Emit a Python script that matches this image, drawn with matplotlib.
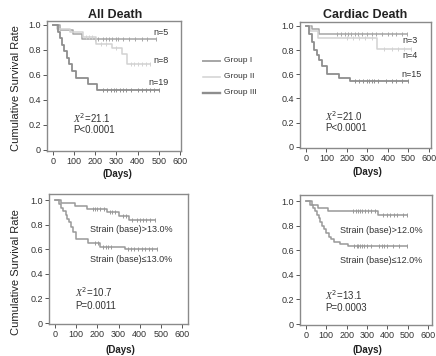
import numpy as np
import matplotlib.pyplot as plt

plt.rcParams['font.family'] = ['Liberation Sans', 'DejaVu Sans']
plt.rcParams['mathtext.fontset'] = 'custom'
plt.rcParams['mathtext.it'] = 'Liberation Serif:italic'

# ---- data (step times in days, survival after each step, last follow-up, censor times)
# All Death
ad_g1_t = [35, 95, 140]
ad_g1_s = [0.96, 0.925, 0.89]
ad_g1_end = 485
ad_g1_cens = [200, 215, 235, 250, 265, 280, 300, 310, 330, 360, 390, 420, 445, 485]

ad_g2_t = [20, 80, 145, 205, 280, 325, 350]
ad_g2_s = [0.97, 0.94, 0.9, 0.85, 0.815, 0.77, 0.685]
ad_g2_end = 458
ad_g2_cens = [155, 170, 185, 230, 250, 300, 370, 385, 400, 420, 440, 458]

ad_g3_t = [25, 35, 45, 55, 65, 78, 92, 108, 165, 210]
ad_g3_s = [0.947, 0.895, 0.842, 0.789, 0.737, 0.684, 0.632, 0.579, 0.526, 0.48]
ad_g3_end = 500
ad_g3_cens = [235, 255, 275, 290, 300, 315, 330, 345, 370, 400, 420, 440, 460, 480, 500]

# Cardiac Death
cd_g1_t = [28, 65]
cd_g1_s = [0.975, 0.93]
cd_g1_end = 495
cd_g1_cens = [150, 170, 190, 205, 220, 240, 255, 275, 300, 320, 340, 370, 400, 420, 440, 470, 495]

cd_g2_t = [20, 60, 345]
cd_g2_s = [0.96, 0.9, 0.81]
cd_g2_end = 512
cd_g2_cens = [200, 230, 260, 290, 320, 380, 420, 450, 480, 512]

cd_g3_t = [15, 28, 40, 52, 65, 80, 105, 160, 215]
cd_g3_s = [0.933, 0.867, 0.8, 0.76, 0.72, 0.667, 0.6, 0.57, 0.545]
cd_g3_end = 500
cd_g3_cens = [240, 260, 280, 300, 310, 320, 330, 350, 390, 420, 440, 470, 500]

# Strain (base) 13.0%
hi13_t = [30, 95, 150, 245, 300, 350]
hi13_s = [0.98, 0.955, 0.926, 0.9, 0.875, 0.84]
hi13_end = 472
hi13_cens = [180, 190, 200, 215, 230, 260, 270, 285, 320, 335, 365, 385, 400, 415, 430, 450, 470]

lo13_t = [20, 30, 40, 50, 58, 66, 75, 85, 100, 155, 215, 330]
lo13_s = [0.97, 0.94, 0.91, 0.88, 0.85, 0.82, 0.78, 0.74, 0.68, 0.65, 0.62, 0.6]
lo13_end = 480
lo13_cens = [190, 205, 225, 240, 250, 265, 345, 360, 375, 390, 410, 425, 445, 460, 480]

# Strain (base) 12.0%
hi12_t = [28, 60, 110, 355]
hi12_s = [0.972, 0.945, 0.918, 0.89]
hi12_end = 495
hi12_cens = [230, 245, 255, 265, 275, 290, 305, 320, 340, 380, 400, 415, 435, 450, 475, 495]

lo12_t = [22, 35, 45, 55, 62, 70, 80, 90, 100, 112, 125, 140, 165, 205]
lo12_s = [0.97, 0.945, 0.92, 0.89, 0.86, 0.83, 0.8, 0.77, 0.74, 0.71, 0.69, 0.67, 0.65, 0.635]
lo12_end = 495
lo12_cens = [235, 250, 258, 265, 275, 285, 300, 320, 360, 375, 385, 400, 430, 460, 495]

group_labels = ['Group I', 'Group II', 'Group III']
x_ticks = [0, 100, 200, 300, 400, 500, 600]
y_ticks = [0, 0.2, 0.4, 0.6, 0.8, 1.0]
y_ticklabels = ['0', '0.2', '0.4', '0.6', '0.8', '1.0']

c_g1 = '#a6a6a6'
c_g2 = '#d2d2d2'
c_g3 = '#8e8e8e'
c_bw = '#999999'
txt = '#333333'

W, H = 436, 356
fig = plt.figure(figsize=(W / 100, H / 100), dpi=100)


def px_axes(l, t, r, b):
    return fig.add_axes([l / W, 1 - b / H, (r - l) / W, (b - t) / H])


def km(ax, t, s, end, cens, color, lw=1.1):
    xs = np.concatenate([[0], t, [end]])
    ys = np.concatenate([[1.0], s, [s[-1]]])
    ax.plot(xs, ys, drawstyle='steps-post', color=color, lw=lw)
    idx = np.searchsorted(t, cens, side='right')
    cy = np.concatenate([[1.0], s])[idx]
    ax.plot(cens, cy, '|', color=color, ms=3.2, mew=0.7)


def style(ax, xlim, ylim):
    ax.set_xlim(*xlim)
    ax.set_ylim(*ylim)
    ax.set_xticks(x_ticks)
    ax.set_yticks(y_ticks)
    ax.set_yticklabels(y_ticklabels)
    for sp in ax.spines.values():
        sp.set_color('#8a8a8a')
        sp.set_linewidth(1.0)
    ax.tick_params(direction='out', length=3, width=0.7, color='#555555',
                   labelcolor=txt, labelsize=6.5, pad=1.5)


# top-left: All Death
ax1 = px_axes(47, 21, 181, 151)
km(ax1, ad_g1_t, ad_g1_s, ad_g1_end, ad_g1_cens, c_g1)
km(ax1, ad_g2_t, ad_g2_s, ad_g2_end, ad_g2_cens, c_g2)
km(ax1, ad_g3_t, ad_g3_s, ad_g3_end, ad_g3_cens, c_g3, lw=1.3)
style(ax1, (-27, 605), (-0.01, 1.032))
ax1.text(545, 0.90, 'n=5', fontsize=6.5, color=txt, ha='right', va='bottom')
ax1.text(545, 0.68, 'n=8', fontsize=6.5, color=txt, ha='right', va='bottom')
ax1.text(545, 0.50, 'n=19', fontsize=6.5, color=txt, ha='right', va='bottom')
ax1.text(95, 0.25, r'$X^2$=21.1', fontsize=7, color=txt, va='center')
ax1.text(95, 0.155, 'P<0.0001', fontsize=7, color=txt, va='center')

# top-right: Cardiac Death
ax2 = px_axes(300, 22, 431, 148)
km(ax2, cd_g1_t, cd_g1_s, cd_g1_end, cd_g1_cens, c_g1)
km(ax2, cd_g2_t, cd_g2_s, cd_g2_end, cd_g2_cens, c_g2)
km(ax2, cd_g3_t, cd_g3_s, cd_g3_end, cd_g3_cens, c_g3, lw=1.3)
style(ax2, (-29, 610), (-0.011, 1.033))
ax2.text(545, 0.88, 'n=3', fontsize=6.5, color=txt, ha='right', va='center')
ax2.text(545, 0.755, 'n=4', fontsize=6.5, color=txt, ha='right', va='center')
ax2.text(565, 0.595, 'n=15', fontsize=6.5, color=txt, ha='right', va='center')
ax2.text(95, 0.25, r'$X^2$=21.0', fontsize=7, color=txt, va='center')
ax2.text(95, 0.155, 'P<0.0001', fontsize=7, color=txt, va='center')

# bottom-left
ax3 = px_axes(49, 194, 188, 324)
km(ax3, hi13_t, hi13_s, hi13_end, hi13_cens, c_bw)
km(ax3, lo13_t, lo13_s, lo13_end, lo13_cens, c_bw)
style(ax3, (-28, 628), (-0.008, 1.05))
ax3.text(165, 0.765, 'Strain (base)>13.0%', fontsize=6.5, color=txt, va='center')
ax3.text(165, 0.52, 'Strain (base)\u226413.0%', fontsize=6.5, color=txt, va='center')
ax3.text(95, 0.245, r'$X^2$=10.7', fontsize=7, color=txt, va='center')
ax3.text(95, 0.14, 'P=0.0011', fontsize=7, color=txt, va='center')

# bottom-right
ax4 = px_axes(300, 195, 432, 325)
km(ax4, hi12_t, hi12_s, hi12_end, hi12_cens, c_bw)
km(ax4, lo12_t, lo12_s, lo12_end, lo12_cens, c_bw)
style(ax4, (-29.5, 620), (-0.008, 1.05))
ax4.text(165, 0.765, 'Strain (base)>12.0%', fontsize=6.5, color=txt, va='center')
ax4.text(165, 0.52, 'Strain (base)\u226412.0%', fontsize=6.5, color=txt, va='center')
ax4.text(95, 0.235, r'$X^2$=13.1', fontsize=7, color=txt, va='center')
ax4.text(95, 0.13, 'P=0.0003', fontsize=7, color=txt, va='center')

# titles, axis labels
fig.text(115 / W, 1 - 15 / H, 'All Death', fontsize=9, fontweight='bold',
         color='#222222', ha='center', va='center')
fig.text(365 / W, 1 - 15 / H, 'Cardiac Death', fontsize=9, fontweight='bold',
         color='#222222', ha='center', va='center')
for cx, cy in [(117, 174), (367, 172), (120, 350), (367, 350)]:
    fig.text(cx / W, 1 - cy / H, '(Days)', fontsize=7, fontweight='bold',
             color='#222222', ha='center', va='center')
for cy in [88, 272]:
    fig.text(16 / W, 1 - cy / H, 'Cumulative Survival Rate', fontsize=8,
             color='#222222', rotation=90, ha='center', va='center')

# legend
for i, (lab, c, lw) in enumerate(zip(group_labels, [c_g1, c_g2, c_g3], [1.4, 1.1, 1.7])):
    y = 1 - (61 + 15.8 * i) / H
    fig.add_artist(plt.Line2D([203 / W, 220 / W], [y, y], color=c, lw=lw))
    fig.text(224 / W, y, lab, fontsize=6, color=txt, va='center')

fig.savefig('out.png', dpi=100)
